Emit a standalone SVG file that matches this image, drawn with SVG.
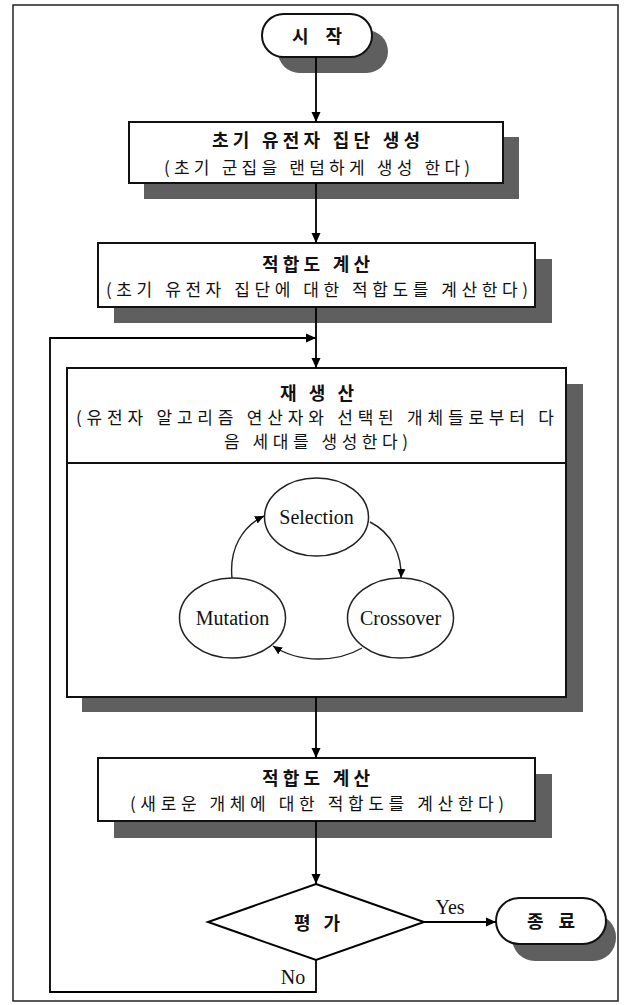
<svg xmlns="http://www.w3.org/2000/svg" width="625" height="1005" viewBox="0 0 625 1005">
<defs>
<marker id="ah" viewBox="0 0 10 10" refX="10" refY="5" markerWidth="10" markerHeight="10" markerUnits="userSpaceOnUse" orient="auto">
<path d="M0,0.5 L10,5 L0,9.5 Z" fill="#000"/>
</marker>
<marker id="ahs" viewBox="0 0 10 10" refX="10" refY="5" markerWidth="9" markerHeight="9" markerUnits="userSpaceOnUse" orient="auto">
<path d="M0,0.5 L10,5 L0,9.5 Z" fill="#000"/>
</marker>
</defs>
<style>
.frame{fill:#fff;stroke:#222;stroke-width:1.5}
.box{fill:#fff;stroke:#111;stroke-width:2}
.shadow{fill:#5f5f5f}
.ell{fill:#fff;stroke:#222;stroke-width:1.5}
.line{fill:none;stroke:#000;stroke-width:1.8}
.thin{fill:none;stroke:#222;stroke-width:1.4}
.ko{font-family:"Noto Sans CJK KR","Noto Sans",sans-serif;font-size:17px;fill:#111;text-anchor:middle;dominant-baseline:central}
.b{font-weight:bold;font-size:18px}
.en{font-family:"Liberation Serif","Times New Roman",serif;font-size:20px;fill:#111;text-anchor:middle;dominant-baseline:central}
</style>
<rect x="13" y="5" width="605" height="996" class="frame"/>

<g id="start">
<rect x="278" y="30" width="110" height="43" rx="21.5" class="shadow"/>
<rect x="262" y="14" width="110" height="43" rx="21.5" class="box"/>
<text x="317" y="35" class="ko b" textLength="50" lengthAdjust="spacing">시 작</text>
</g>

<g id="init">
<rect x="144" y="137" width="375" height="62" class="shadow"/>
<rect x="129" y="122" width="374" height="61" class="box"/>
<text x="316" y="139" class="ko b" textLength="208" lengthAdjust="spacing">초기 유전자 집단 생성</text>
<text x="317" y="166" class="ko" textLength="306" lengthAdjust="spacing">(초기 군집을 랜덤하게 생성 한다)</text>
</g>

<g id="fitness1">
<rect x="114" y="259" width="438" height="64" class="shadow"/>
<rect x="98" y="243" width="437" height="64" class="box"/>
<text x="316" y="263" class="ko b" textLength="108" lengthAdjust="spacing">적합도 계산</text>
<text x="317" y="288" class="ko" textLength="422" lengthAdjust="spacing">(초기 유전자 집단에 대한 적합도를 계산한다)</text>
</g>

<g id="reproduce">
<rect x="82" y="384" width="501" height="328" class="shadow"/>
<rect x="67" y="368" width="499" height="329" class="box"/>
<line x1="67" y1="463" x2="566" y2="463" stroke="#111" stroke-width="2"/>
<text x="317" y="392" class="ko b" textLength="74" lengthAdjust="spacing">재 생 산</text>
<text x="315" y="416" class="ko" textLength="478" lengthAdjust="spacing">(유전자 알고리즘 연산자와 선택된 개체들로부터 다</text>
<text x="316" y="440" class="ko" textLength="184" lengthAdjust="spacing">음 세대를 생성한다)</text>
</g>

<g id="selection">
<ellipse cx="316.5" cy="517" rx="52" ry="39" class="ell"/>
<text x="316.5" y="517" class="en">Selection</text>
</g>
<g id="mutation">
<ellipse cx="232.5" cy="618" rx="53" ry="40" class="ell"/>
<text x="232.5" y="618" class="en">Mutation</text>
</g>
<g id="crossover">
<ellipse cx="400.5" cy="618" rx="53" ry="40" class="ell"/>
<text x="400.5" y="618" class="en">Crossover</text>
</g>

<g id="fitness2">
<rect x="114" y="774" width="438" height="64" class="shadow"/>
<rect x="98" y="758" width="437" height="63" class="box"/>
<text x="316" y="777" class="ko b" textLength="108" lengthAdjust="spacing">적합도 계산</text>
<text x="317" y="802" class="ko" textLength="374" lengthAdjust="spacing">(새로운 개체에 대한 적합도를 계산한다)</text>
</g>

<g id="evaluate">
<polygon points="316,884 424,922 316,960 208,922" fill="#fff" stroke="#000" stroke-width="2"/>
<text x="317" y="922" class="ko b" textLength="46" lengthAdjust="spacing">평 가</text>
</g>

<g id="end">
<rect x="512" y="914" width="104" height="47" rx="23" class="shadow"/>
<rect x="496" y="898" width="110" height="46" rx="23" class="box"/>
<text x="551" y="920" class="ko b" textLength="48" lengthAdjust="spacing">종 료</text>
</g>

<g id="connectors">
<line x1="316" y1="57" x2="316" y2="122" class="line" marker-end="url(#ah)"/>
<line x1="316" y1="183" x2="316" y2="243" class="line" marker-end="url(#ah)"/>
<line x1="316" y1="307" x2="316" y2="368" class="line" marker-end="url(#ah)"/>
<path d="M316,960 V992 H50 V338 H316" class="line" marker-end="url(#ah)"/>
<line x1="316" y1="697" x2="316" y2="758" class="line" marker-end="url(#ah)"/>
<line x1="316" y1="821" x2="316" y2="884" class="line" marker-end="url(#ah)"/>
<line x1="424" y1="922" x2="496" y2="922" class="line" marker-end="url(#ah)"/>
<path d="M370,522 C392,533 402,555 401,578" class="thin" marker-end="url(#ahs)"/>
<path d="M362,648 C338,662 300,664 273,646" class="thin" marker-end="url(#ahs)"/>
<path d="M232,578 C229,548 243,526 264,516" class="thin" marker-end="url(#ahs)"/>
<text x="450" y="907" class="en">Yes</text>
<text x="293" y="977" class="en">No</text>
</g>
</svg>
